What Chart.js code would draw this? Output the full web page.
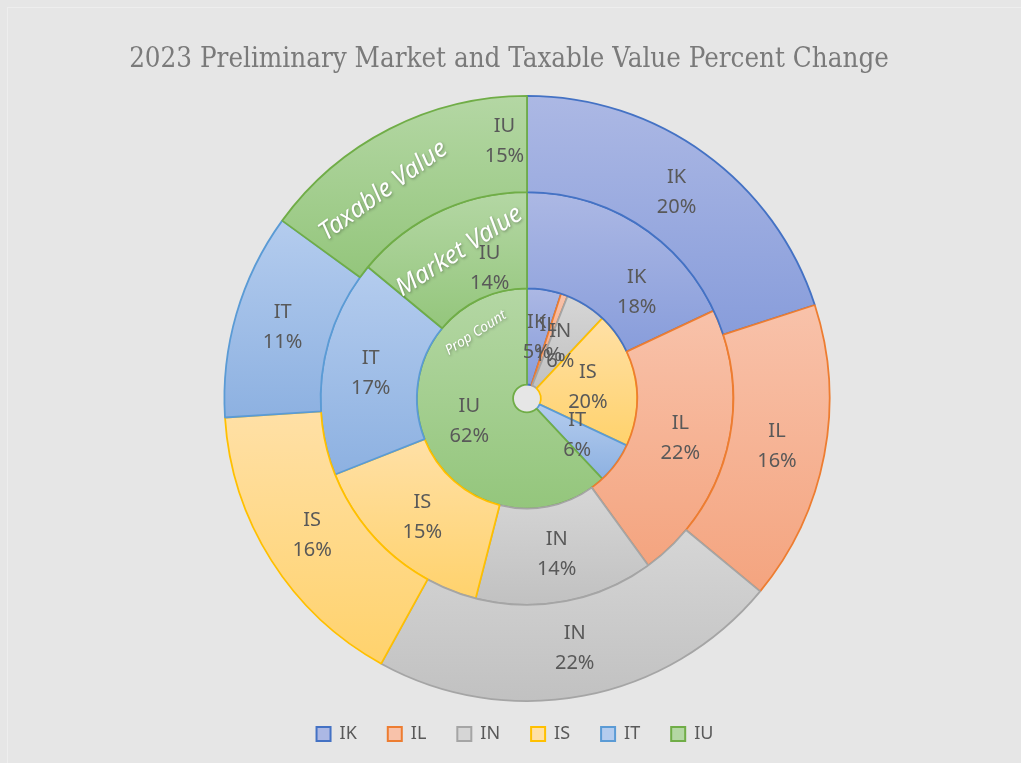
<!DOCTYPE html>
<html>
<head>
<meta charset="utf-8">
<script src="https://cdn.jsdelivr.net/npm/chart.js@4.4.0/dist/chart.umd.min.js"></script>
<style>
  html, body { margin: 0; padding: 0; background: #e6e6e6; }
  #wrap { width: 1021px; height: 763px; position: relative; }
</style>
</head>
<body>
<div id="wrap"><canvas id="donut"></canvas></div>
<script>
// ---- data ----
const categories = ['IK', 'IL', 'IN', 'IS', 'IT', 'IU'];
const ringNames = ['Taxable Value', 'Market Value', 'Prop Count'];
const taxableValue = [20, 16, 22, 16, 11, 15];
const marketValue = [18, 22, 14, 15, 17, 14];
const propCount = [5, 1, 6, 20, 6, 62];

// office-ish palette: border colour, gradient top, gradient bottom
const edgeColors = ['#4472c4', '#ed7d31', '#a5a5a5', '#ffc000', '#5b9bd5', '#70ad47'];
const topColors = ['#acb8e4', '#f8c2aa', '#d6d6d6', '#ffe0a6', '#b4ccee', '#b4d7a4'];
const bottomColors = ['#889ddb', '#f4a47f', '#c1c1c1', '#ffd26c', '#8db1e1', '#94c67c'];

const CUTOUT = 0.046;

// a few labels were moved by hand in the original (clockwise degrees from top, fraction across ring)
const labelMoves = { '0-5': [355, 0.54], '1-0': [46, 0.44], '1-5': [344, 0.26] };
// ring captions: angle (cw from top), fraction across ring, text rotation, font size
const captionStyle = [
  { ang: -34.7, frac: 0.48, rot: -36, size: 25 },
  { ang: -24.7, frac: 0.54, rot: -33, size: 25 },
  { ang: -38, frac: 0.72, rot: -33, size: 14 }
];

function segFill(c) {
  const chart = c.chart, area = chart.chartArea;
  const i = c.dataIndex;
  if (!area || c.type !== 'data') return topColors[i];
  const data = chart.data.datasets[c.datasetIndex].data;
  const n = chart.data.datasets.length;
  const cx = (area.left + area.right) / 2, cy = (area.top + area.bottom) / 2;
  const R = Math.min(area.right - area.left, area.bottom - area.top) / 2;
  const thick = (R - R * CUTOUT) / n;
  const rOut = R - thick * c.datasetIndex, rIn = rOut - thick;
  const total = data.reduce((a, b) => a + b, 0);
  let before = 0;
  for (let k = 0; k < i; k++) before += data[k];
  const a0 = before / total * 2 * Math.PI - Math.PI / 2;
  const a1 = (before + data[i]) / total * 2 * Math.PI - Math.PI / 2;
  let yMin = Infinity, yMax = -Infinity;
  for (let s = 0; s <= 40; s++) {
    const a = a0 + (a1 - a0) * s / 40;
    [rIn, rOut].forEach(r => {
      const y = cy + Math.sin(a) * r;
      yMin = Math.min(yMin, y); yMax = Math.max(yMax, y);
    });
  }
  if (!isFinite(yMin) || yMax - yMin < 1) return topColors[i];
  const g = chart.ctx.createLinearGradient(0, yMin, 0, yMax);
  g.addColorStop(0, topColors[i]);
  g.addColorStop(1, bottomColors[i]);
  return g;
}

function ring(label, values) {
  return {
    label: label,
    data: values,
    backgroundColor: segFill,
    borderColor: edgeColors,
    borderWidth: 1.8,
    hoverOffset: 0
  };
}

const backdrop = {
  id: 'backdrop',
  beforeDraw(chart) {
    const ctx = chart.ctx;
    ctx.save();
    ctx.fillStyle = '#e6e6e6';
    ctx.fillRect(0, 0, chart.width, chart.height);
    ctx.strokeStyle = '#eeeeee';
    ctx.lineWidth = 1;
    ctx.strokeRect(7.5, 7.5, chart.width + 20, chart.height + 20);
    ctx.restore();
  }
};

// title and legend sit a bit left of the doughnut centre in the original
const shiftBoxes = {
  id: 'shiftBoxes',
  afterLayout(chart) {
    if (chart.titleBlock) { chart.titleBlock.left -= 18; chart.titleBlock.right -= 18; }
    if (chart.legend) {
      chart.legend.left -= 12; chart.legend.right -= 12;
      chart.legend.top -= 8; chart.legend.bottom -= 8;
    }
  }
};

const segLabels = {
  id: 'segLabels',
  afterDatasetsDraw(chart) {
    const ctx = chart.ctx;
    ctx.save();
    ctx.font = '20px "Noto Sans"';
    ctx.fillStyle = '#595959';
    ctx.textAlign = 'center';
    ctx.textBaseline = 'middle';
    chart.data.datasets.forEach((ds, di) => {
      chart.getDatasetMeta(di).data.forEach((arc, i) => {
        const p = arc.getProps(['x', 'y', 'startAngle', 'endAngle', 'innerRadius', 'outerRadius']);
        let ang = (p.startAngle + p.endAngle) / 2;
        let frac = 0.5;
        const mv = labelMoves[di + '-' + i];
        if (mv) { ang = (mv[0] - 90) * Math.PI / 180; frac = mv[1]; }
        const r = p.innerRadius + (p.outerRadius - p.innerRadius) * frac;
        const x = p.x + Math.cos(ang) * r;
        const y = p.y + Math.sin(ang) * r;
        ctx.fillText(categories[i], x, y - 15);
        ctx.fillText(ds.data[i] + '%', x, y + 15);
      });
    });
    ctx.restore();
  }
};

const ringCaptions = {
  id: 'ringCaptions',
  afterDatasetsDraw(chart) {
    const ctx = chart.ctx;
    ctx.save();
    ctx.fillStyle = '#ffffff';
    ctx.textAlign = 'center';
    ctx.textBaseline = 'middle';
    ctx.shadowColor = 'rgba(0,0,0,0.35)';
    ctx.shadowBlur = 3;
    ctx.shadowOffsetX = 1;
    ctx.shadowOffsetY = 1;
    ringNames.forEach((name, di) => {
      const arc = chart.getDatasetMeta(di).data[0];
      if (!arc) return;
      const p = arc.getProps(['x', 'y', 'innerRadius', 'outerRadius']);
      const st = captionStyle[di];
      const r = p.innerRadius + (p.outerRadius - p.innerRadius) * st.frac;
      const a = (st.ang - 90) * Math.PI / 180;
      ctx.save();
      ctx.translate(p.x + Math.cos(a) * r, p.y + Math.sin(a) * r);
      ctx.rotate(st.rot * Math.PI / 180);
      ctx.font = 'italic ' + st.size + 'px "Noto Sans"';
      ctx.fillText(name, 0, 0);
      ctx.restore();
    });
    ctx.restore();
  }
};

new Chart(document.getElementById('donut'), {
  type: 'doughnut',
  data: {
    labels: categories,
    datasets: [
      ring(ringNames[0], taxableValue),
      ring(ringNames[1], marketValue),
      ring(ringNames[2], propCount)
    ]
  },
  options: {
    responsive: true,
    maintainAspectRatio: false,
    animation: false,
    cutout: (CUTOUT * 100) + '%',
    layout: { padding: { left: 33, right: 0, top: 0, bottom: 2 } },
    plugins: {
      title: {
        display: true,
        text: '2023 Preliminary Market and Taxable Value Percent Change',
        color: '#7a7a7a',
        font: { family: '"DejaVu Serif Condensed", "DejaVu Serif", serif', size: 27.5, weight: 'normal' },
        padding: { top: 43.5, bottom: 18.5 }
      },
      legend: {
        position: 'bottom',
        labels: {
          color: '#595959',
          font: { family: '"Noto Sans"', size: 18 },
          boxWidth: 14,
          boxHeight: 14,
          padding: 31,
          generateLabels(chart) {
            return categories.map((name, i) => ({
              text: name,
              fillStyle: topColors[i],
              strokeStyle: edgeColors[i],
              lineWidth: 2,
              fontColor: '#595959',
              hidden: false,
              index: i
            }));
          }
        }
      },
      tooltip: { enabled: false }
    }
  },
  plugins: [backdrop, shiftBoxes, segLabels, ringCaptions]
});
</script>
</body>
</html>
